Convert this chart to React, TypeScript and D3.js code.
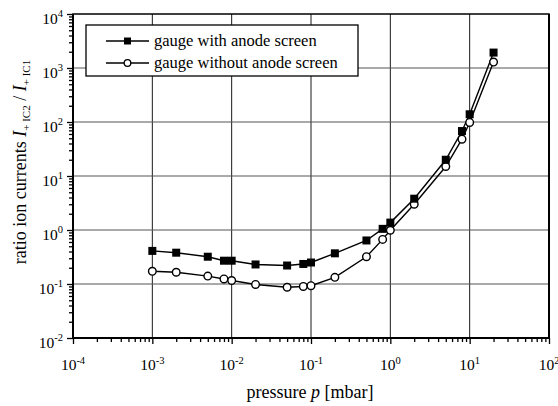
import { useEffect, useRef } from 'react';
import * as d3 from 'd3';

// pressure values [mbar]
const pressures = [0.001, 0.002, 0.005, 0.008, 0.01, 0.02, 0.05, 0.08, 0.1, 0.2, 0.5, 0.8, 1, 2, 5, 8, 10, 20];
// ratio I+IC2 / I+IC1, gauge with anode screen
const withScreen = [0.41, 0.38, 0.32, 0.27, 0.27, 0.23, 0.22, 0.235, 0.25, 0.37, 0.64, 1.05, 1.37, 3.8, 20, 68, 139, 1930];
// ratio I+IC2 / I+IC1, gauge without anode screen
const withoutScreen = [0.172, 0.165, 0.14, 0.124, 0.116, 0.098, 0.087, 0.09, 0.093, 0.133, 0.32, 0.67, 0.99, 3.0, 15, 48, 98, 1290];

const xDecades = [-4, -3, -2, -1, 0, 1, 2];
const yDecades = [-2, -1, 0, 1, 2, 3, 4];
const legendLabels = ['gauge with anode screen', 'gauge without anode screen'];

const W = 558;
const H = 406;
const M = { left: 73, right: 549, top: 14, bottom: 338 };
const FONT = '"Liberation Serif", "Times New Roman", serif';

function minorTicks(decades: number[]) {
  const out: number[] = [];
  for (let i = 0; i < decades.length - 1; i++) {
    for (let m = 2; m <= 9; m++) out.push(m * Math.pow(10, decades[i]));
  }
  return out;
}

export default function App() {
  const svgRef = useRef<SVGSVGElement>(null);

  useEffect(() => {
    if (!svgRef.current) return;
    const svg = d3.select(svgRef.current);
    svg.selectAll('*').remove();

    const x = d3.scaleLog().domain([1e-4, 1e2]).range([M.left, M.right]);
    const y = d3.scaleLog().domain([1e-2, 1e4]).range([M.bottom, M.top]);

    svg.append('rect').attr('width', W).attr('height', H).attr('fill', '#fff');

    // Grid
    const grid = svg.append('g');
    xDecades.slice(1, -1).forEach(d => {
      grid.append('line')
        .attr('x1', x(Math.pow(10, d))).attr('x2', x(Math.pow(10, d)))
        .attr('y1', M.top).attr('y2', M.bottom)
        .attr('stroke', '#1a1a1a').attr('stroke-width', 1);
    });
    yDecades.slice(1, -1).forEach(d => {
      grid.append('line')
        .attr('x1', M.left).attr('x2', M.right)
        .attr('y1', y(Math.pow(10, d))).attr('y2', y(Math.pow(10, d)))
        .attr('stroke', '#555').attr('stroke-width', 1);
    });

    // Axes with major/minor ticks
    const xMajor = xDecades.map(d => Math.pow(10, d));
    const yMajor = yDecades.map(d => Math.pow(10, d));
    const xAxis = svg.append('g').attr('transform', `translate(0,${M.bottom})`);
    xAxis.call(d3.axisBottom(x).tickValues(minorTicks(xDecades)).tickSize(4).tickFormat(() => ''));
    xAxis.append('g').call(d3.axisBottom(x).tickValues(xMajor).tickSize(6).tickFormat(() => ''));
    const yAxis = svg.append('g').attr('transform', `translate(${M.left},0)`);
    yAxis.call(d3.axisLeft(y).tickValues(minorTicks(yDecades)).tickSize(4).tickFormat(() => ''));
    yAxis.append('g').call(d3.axisLeft(y).tickValues(yMajor).tickSize(6).tickFormat(() => ''));
    svg.selectAll('.domain').remove();
    svg.selectAll('.tick line').attr('stroke', '#000').attr('stroke-width', 1.3);

    // Frame
    svg.append('rect')
      .attr('x', M.left).attr('y', M.top)
      .attr('width', M.right - M.left).attr('height', M.bottom - M.top)
      .attr('fill', 'none').attr('stroke', '#000').attr('stroke-width', 1.5);
    svg.append('path')
      .attr('d', `M${M.left},${M.top}V${M.bottom}H${M.right}V${M.top}`)
      .attr('fill', 'none').attr('stroke', '#000').attr('stroke-width', 2);

    // Tick labels
    xDecades.forEach(d => {
      const t = svg.append('text')
        .attr('x', x(Math.pow(10, d))).attr('y', 370)
        .attr('text-anchor', 'middle')
        .attr('font-family', FONT).attr('font-size', 15.5).attr('fill', '#000');
      t.append('tspan').text('10');
      t.append('tspan').attr('dy', -6.5).attr('font-size', 10.5).text(String(d));
    });
    yDecades.forEach(d => {
      const t = svg.append('text')
        .attr('x', 63).attr('y', y(Math.pow(10, d)) + 9.5)
        .attr('text-anchor', 'end')
        .attr('font-family', FONT).attr('font-size', 15.5).attr('fill', '#000');
      t.append('tspan').text('10');
      t.append('tspan').attr('dy', -6.5).attr('font-size', 10.5).text(String(d));
    });

    // Axis titles
    const xt = svg.append('text')
      .attr('x', 310).attr('y', 398)
      .attr('text-anchor', 'middle')
      .attr('font-family', FONT).attr('font-size', 18).attr('fill', '#000');
    xt.append('tspan').text('pressure  ');
    xt.append('tspan').attr('font-style', 'italic').text('p');
    xt.append('tspan').text(' [mbar]');

    const yt = svg.append('text')
      .attr('transform', `translate(26,162) rotate(-90)`)
      .attr('text-anchor', 'middle')
      .attr('font-family', FONT).attr('font-size', 18).attr('fill', '#000');
    yt.append('tspan').text('ratio ion currents  ');
    yt.append('tspan').attr('font-style', 'italic').text('I');
    yt.append('tspan').attr('dy', 4).attr('font-size', 11).text('+ IC2');
    yt.append('tspan').attr('dy', -4).text(' / ');
    yt.append('tspan').attr('font-style', 'italic').text('I');
    yt.append('tspan').attr('dy', 4).attr('font-size', 11).text('+ IC1');

    // Series
    const line = d3.line<number>()
      .x((_d, i) => x(pressures[i]))
      .y(d => y(d));
    const plot = svg.append('g');
    [withScreen, withoutScreen].forEach(vals => {
      plot.append('path')
        .attr('d', line(vals))
        .attr('fill', 'none').attr('stroke', '#000').attr('stroke-width', 1.4);
    });
    withoutScreen.forEach((v, i) => {
      plot.append('circle')
        .attr('cx', x(pressures[i])).attr('cy', y(v)).attr('r', 3.8)
        .attr('fill', '#fff').attr('stroke', '#000').attr('stroke-width', 1.4);
    });
    withScreen.forEach((v, i) => {
      plot.append('rect')
        .attr('x', x(pressures[i]) - 4).attr('y', y(v) - 4)
        .attr('width', 8).attr('height', 8)
        .attr('fill', '#000');
    });

    // Legend
    const lg = svg.append('g');
    lg.append('rect')
      .attr('x', 86).attr('y', 25).attr('width', 272).attr('height', 51)
      .attr('fill', '#fff').attr('stroke', '#000').attr('stroke-width', 1.3);
    legendLabels.forEach((label, i) => {
      const cy = 41 + i * 22;
      lg.append('line')
        .attr('x1', 106).attr('x2', 149).attr('y1', cy).attr('y2', cy)
        .attr('stroke', '#000').attr('stroke-width', 1.3);
      if (i === 0) {
        lg.append('rect').attr('x', 124).attr('y', cy - 3.5).attr('width', 7).attr('height', 7).attr('fill', '#000');
      } else {
        lg.append('circle').attr('cx', 127.5).attr('cy', cy).attr('r', 3.3)
          .attr('fill', '#fff').attr('stroke', '#000').attr('stroke-width', 1.3);
      }
      lg.append('text')
        .attr('x', 154).attr('y', cy + 5)
        .attr('font-family', FONT).attr('font-size', 16.5).attr('fill', '#000')
        .text(label);
    });
  }, []);

  return (
    <svg
      ref={svgRef}
      width={W}
      height={H}
      style={{ position: 'absolute', left: 0, top: 0, display: 'block' }}
    />
  );
}
